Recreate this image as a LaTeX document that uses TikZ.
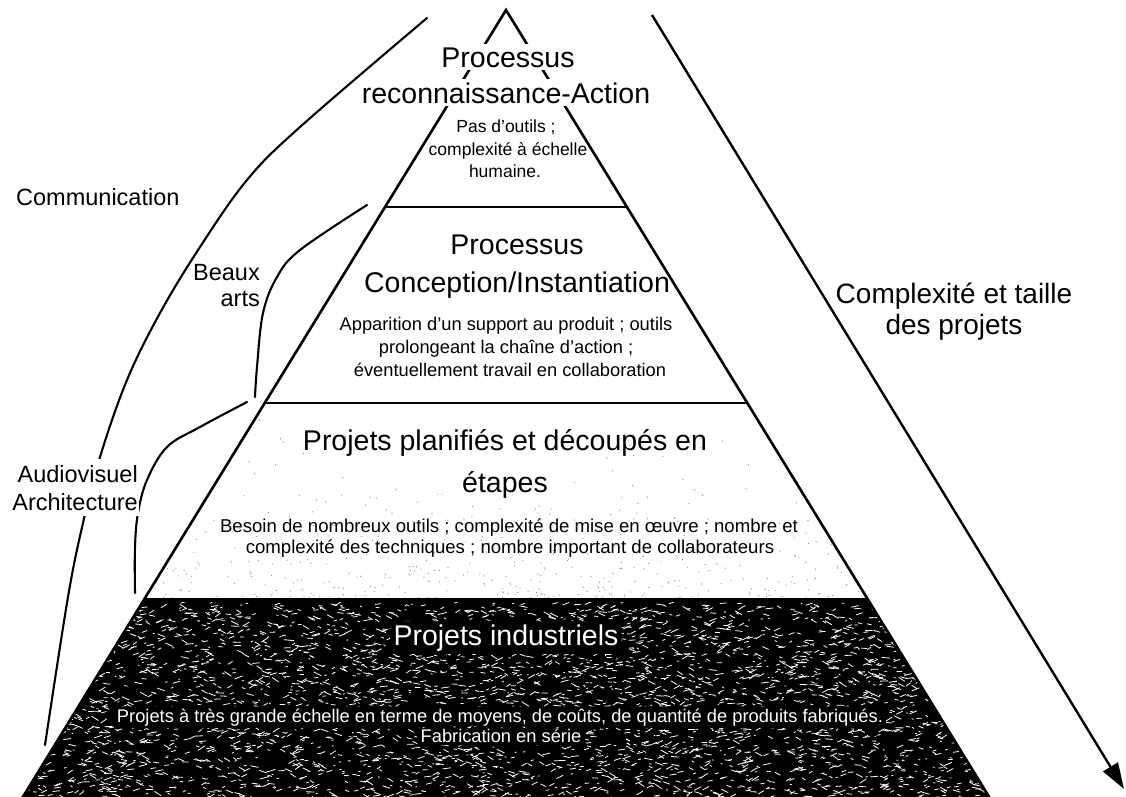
\documentclass[tikz,border=0pt]{standalone}
\usepackage{fontspec}
\setmainfont{Liberation Sans}
\usetikzlibrary{arrows.meta}
\pgfdeclarelayer{texture}
\pgfsetlayers{texture,main}
\begin{document}
\begin{tikzpicture}[x=1pt,y=-1pt,
  edge/.style={line width=2.6pt, line join=miter},
  bandline/.style={line width=2.8pt},
  curve/.style={line width=2.1pt, line cap=round},
  title/.style={font=\fontsize{28.5}{34}\selectfont, inner sep=0pt, anchor=base},
  note/.style={font=\fontsize{18.6}{21}\selectfont, inner sep=0pt, anchor=base},
  topnote/.style={font=\fontsize{17.5}{21}\selectfont, inner sep=0pt, anchor=base},
  midnote/.style={font=\fontsize{18.3}{21}\selectfont, inner sep=0pt, anchor=base},
  basenote/.style={font=\fontsize{18.3}{21}\selectfont, inner sep=0pt, anchor=base},
  side/.style={font=\fontsize{23.5}{27}\selectfont, inner sep=0pt},
  knock/.style={fill=white, inner xsep=2pt, inner ysep=3pt},
]
\useasboundingbox (0,0) rectangle (1126,796);

% pyramid corners
\coordinate (apex) at (506,10);
\coordinate (l1) at (385,207);  \coordinate (r1) at (627,207);
\coordinate (l2) at (265,403);  \coordinate (r2) at (747,403);
\coordinate (l3) at (144,600);  \coordinate (r3) at (868,600);
\coordinate (l4) at (21,800);   \coordinate (r4) at (991,800);

% light grain in the third band
\pgfmathsetseed{11}
\begin{scope}
  \clip (l2) -- (r2) -- (r3) -- (l3) -- cycle;
  \foreach \i in {1,...,450}{
    \pgfmathsetmacro\tkX{140+730*rnd}
    \pgfmathsetmacro\tkY{598-190*rnd*rnd}
    \fill[black!50] (\tkX,\tkY) circle (0.6);
  }
\end{scope}

% pyramid outline and band separators
\draw[edge] (l4) -- (apex) -- (r4);
\draw[bandline] (l1) -- (r1);
\draw[bandline] (l2) -- (r2);
\draw[bandline, line width=3.2pt] (l3) -- (r3);

% domain curves on the left
\draw[curve] plot[smooth, tension=0.6] coordinates {(427,18) (300,127) (247,180) (200,247) (160,313) (127,380) (100,457) (83,523) (68,597) (45,745)};
\draw[curve] plot[smooth, tension=0.6] coordinates {(367,205) (300,250) (277,277) (263,313) (257,367) (255,397)};
\draw[curve] plot[smooth, tension=0.6] coordinates {(247,402) (200,427) (167,447) (147,480) (138,513) (135,547) (135,593)};

% complexity arrow
\coordinate (arrS) at (652,15);
\coordinate (arrE) at (1124,789);
\draw[line width=2.4pt, -{Triangle[length=26pt,width=17pt]}] (arrS) -- (arrE);

% side labels
\node[side, anchor=base west] (comm) at (16,205) {Communication};
\node[side, anchor=base east] (beaux) at (260,280) {Beaux};
\node[side, anchor=base east] (arts) at (260,306) {arts};
\node[side, knock, inner xsep=1pt, inner ysep=6pt, anchor=base east] (audio) at (139,482) {Audiovisuel};
\node[side, knock, inner xsep=1pt, inner ysep=6pt, anchor=base east] (archi) at (139,510) {Architecture};
\node[title, font=\fontsize{28}{34}\selectfont] (cplx1) at (954,303) {Complexité et taille};
\node[title, font=\fontsize{28}{34}\selectfont] (cplx2) at (954,334) {des projets};

% top band
\node[title, knock] (t1a) at (508,67) {Processus};
\node[title, knock] (t1b) at (506,103) {reconnaissance-Action};
\node[topnote] (n1a) at (506,132) {Pas d’outils ;};
\node[topnote] (n1b) at (508,155) {complexité à échelle};
\node[topnote] (n1c) at (505,177) {humaine.};

% second band
\node[title] (t2a) at (517,254) {Processus};
\node[title] (t2b) at (517,292) {Conception/Instantiation};
\node[midnote] (n2a) at (506,330) {Apparition d’un support au produit ; outils};
\node[midnote] (n2b) at (506,353) {prolongeant la chaîne d’action ;};
\node[midnote] (n2c) at (510,376) {éventuellement travail en collaboration};

% third band
\node[title] (t3a) at (505,450) {Projets planifiés et découpés en};
\node[title] (t3b) at (505,492) {étapes};
\node[note] (n3a) at (509,532) {Besoin de nombreux outils ; complexité de mise en œuvre ; nombre et};
\node[note] (n3b) at (510,553) {complexité des techniques ; nombre important de collaborateurs};

% base band lettering
\node[title, text=white] (t4a) at (506,645) {Projets industriels};
\node[basenote, text=white] (n4a) at (500,722) {Projets à très grande échelle en terme de moyens, de coûts, de quantité de produits fabriqués.};
\node[basenote, text=white] (n4b) at (501,742) {Fabrication en série};

% dark granite texture of the base band, kept clear just around the lettering
\begin{pgfonlayer}{texture}
\begin{scope}
  \clip (l3) -- (r3) -- (r4) -- (l4) -- cycle;
  \fill[black] (l3) -- (r3) -- (r4) -- (l4) -- cycle;
  \begin{scope}[even odd rule]
    \clip (0,590) rectangle (1126,800)
      ([shift={(-3pt,-3pt)}]t4a.south west) rectangle ([shift={(3pt,3pt)}]t4a.north east)
      ([shift={(-3pt,-2pt)}]n4a.south west) rectangle ([shift={(3pt,2pt)}]n4a.north east)
      ([shift={(-3pt,-3pt)}]n4b.south west) rectangle ([shift={(3pt,2pt)}]n4b.north east);
    \foreach \i in {1,...,4200}{
      \pgfmathsetmacro\tkX{18+976*rnd}
      \pgfmathsetmacro\tkY{603+200*rnd}
      \pgfmathsetmacro\tkL{1.5+7*rnd}
      \pgfmathsetmacro\tkA{-35+70*rnd}
      \draw[white, line width=0.8pt] (\tkX,\tkY) -- ++(\tkA:\tkL);
    }
  \end{scope}
\end{scope}
\end{pgfonlayer}
\end{tikzpicture}
\end{document}
